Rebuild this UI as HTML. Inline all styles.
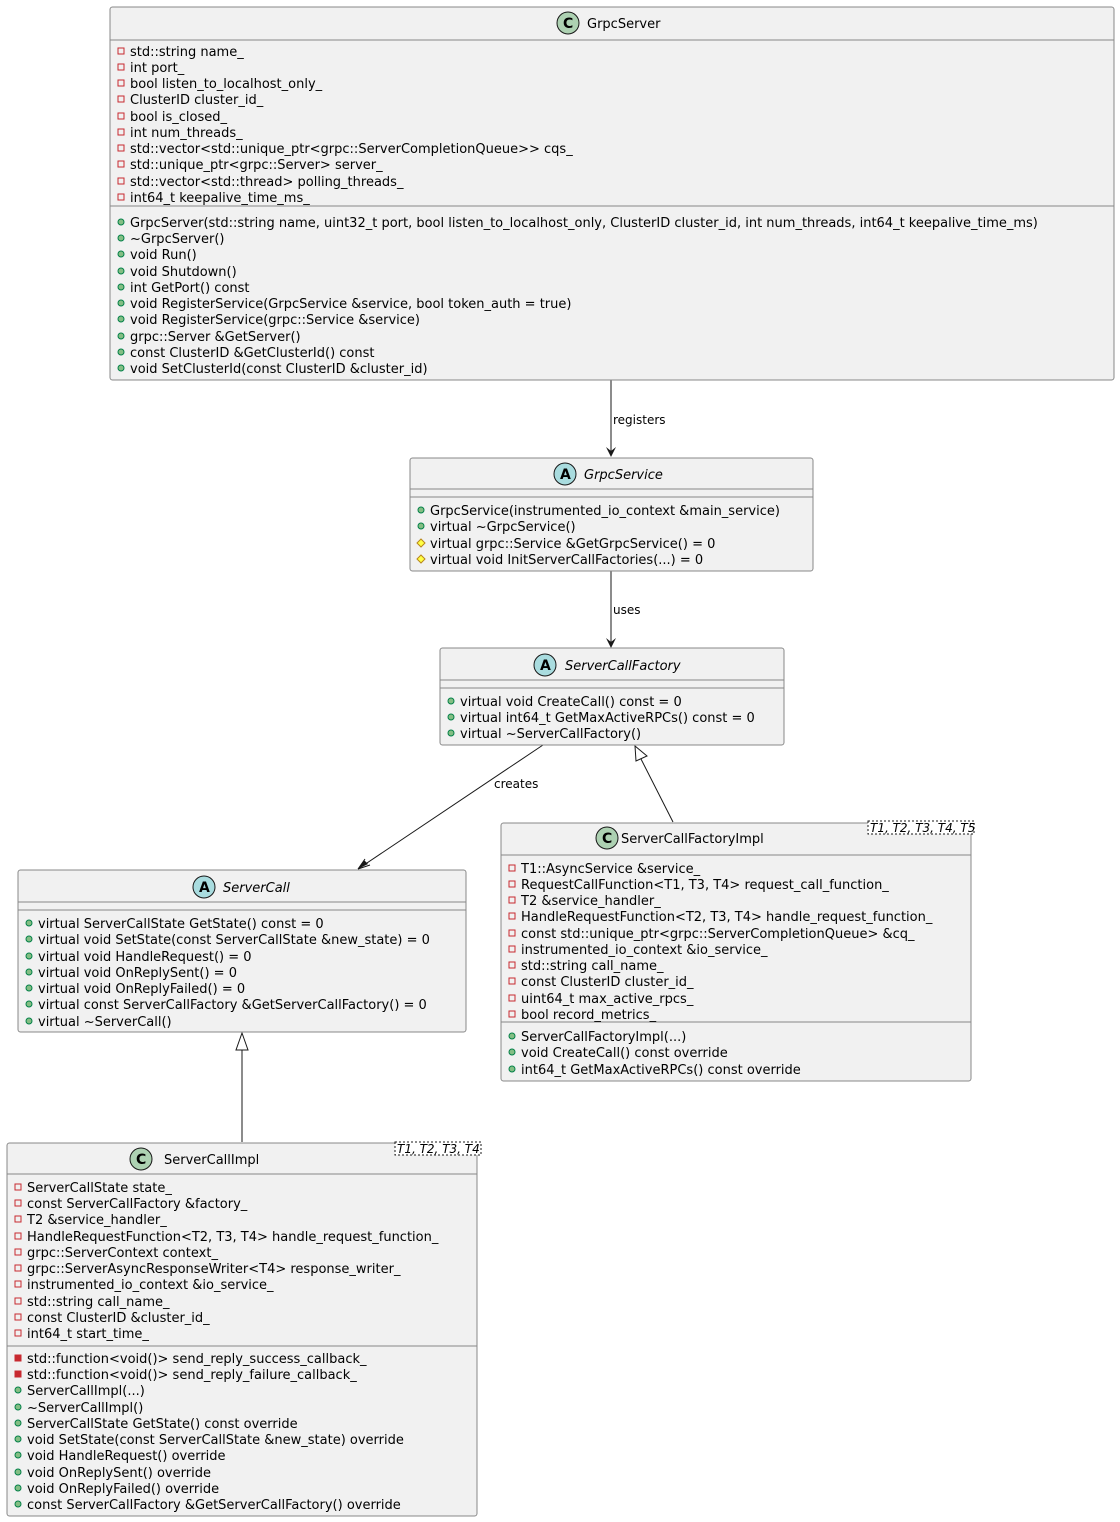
<!DOCTYPE html>
<html><head><meta charset="utf-8"><style>
html,body{margin:0;padding:0;background:#fff}
svg{display:block}
text{font-family:"DejaVu Sans","Liberation Sans",sans-serif;font-size:13px;fill:#000}
.b{fill:#f1f1f1;stroke:#888;stroke-width:1}
.d{stroke:#888;stroke-width:1}
.pv{fill:none;stroke:#c82930;stroke-width:1}
.pvf{fill:#c82930;stroke:#c82930}
.pu{fill:#84be84;stroke:#038048;stroke-width:1}
.pr{fill:#ffff44;stroke:#b8861b;stroke-width:1}
.it{font-style:italic}
.e{stroke:#181818;stroke-width:1;fill:none}
.lbl{font-size:12px}
</style></head><body>
<svg width="1120" height="1522" viewBox="0 0 1120 1522" xmlns="http://www.w3.org/2000/svg">
<defs>
<g id="pv"><rect x="-3" y="-3" width="6" height="6" class="pv"/></g>
<g id="pvf"><rect x="-3" y="-3" width="6" height="6" class="pvf"/></g>
<g id="pu"><circle r="3" class="pu"/></g>
<g id="pr"><polygon points="0,-4 4,0 0,4 -4,0" class="pr"/></g>
</defs>

<!-- edges -->
<line x1="611" y1="380" x2="611" y2="455" class="e"/>
<polygon points="606,447 611,457 616,447 611,451" fill="#181818"/>
<text x="613" y="424" class="lbl">registers</text>
<line x1="611" y1="571" x2="611" y2="646" class="e"/>
<polygon points="606,638 611,648 616,638 611,642" fill="#181818"/>
<text x="613" y="614" class="lbl">uses</text>
<line x1="543" y1="745" x2="358" y2="869" class="e"/>
<polygon points="358,869 364,860 368,864" fill="#181818"/>
<path d="M358,869 L365,859 M358,869 L370,865" class="e"/>
<text x="494" y="788" class="lbl">creates</text>
<line x1="673" y1="822" x2="641" y2="759" class="e"/>
<polygon points="635,746 647,756 636,761" fill="#fff" stroke="#181818"/>
<line x1="242" y1="1142" x2="242" y2="1050" class="e"/>
<polygon points="242,1033 248,1050 236,1050" fill="#fff" stroke="#181818"/>

<!-- GrpcServer -->
<rect x="110" y="7" width="1004" height="373" rx="2.5" class="b"/>
<line x1="110" y1="40" x2="1114" y2="40" class="d"/>
<line x1="110" y1="206" x2="1114" y2="206" class="d"/>
<circle cx="568" cy="23" r="11" fill="#add1b2" stroke="#181818"/>
<text x="563" y="28" style="font-weight:bold;font-size:14px">C</text>
<text x="587" y="28">GrpcServer</text>
<g>
<use href="#pv" x="121" y="51"/><text x="130" y="56">std::string name_</text>
<use href="#pv" x="121" y="67"/><text x="130" y="72">int port_</text>
<use href="#pv" x="121" y="83"/><text x="130" y="88">bool listen_to_localhost_only_</text>
<use href="#pv" x="121" y="99"/><text x="130" y="104">ClusterID cluster_id_</text>
<use href="#pv" x="121" y="116"/><text x="130" y="121">bool is_closed_</text>
<use href="#pv" x="121" y="132"/><text x="130" y="137">int num_threads_</text>
<use href="#pv" x="121" y="148"/><text x="130" y="153">std::vector&lt;std::unique_ptr&lt;grpc::ServerCompletionQueue&gt;&gt; cqs_</text>
<use href="#pv" x="121" y="164"/><text x="130" y="169">std::unique_ptr&lt;grpc::Server&gt; server_</text>
<use href="#pv" x="121" y="181"/><text x="130" y="186">std::vector&lt;std::thread&gt; polling_threads_</text>
<use href="#pv" x="121" y="197"/><text x="130" y="202">int64_t keepalive_time_ms_</text>
<use href="#pu" x="121" y="222"/><text x="130" y="227">GrpcServer(std::string name, uint32_t port, bool listen_to_localhost_only, ClusterID cluster_id, int num_threads, int64_t keepalive_time_ms)</text>
<use href="#pu" x="121" y="238"/><text x="130" y="243">~GrpcServer()</text>
<use href="#pu" x="121" y="254"/><text x="130" y="259">void Run()</text>
<use href="#pu" x="121" y="271"/><text x="130" y="276">void Shutdown()</text>
<use href="#pu" x="121" y="287"/><text x="130" y="292">int GetPort() const</text>
<use href="#pu" x="121" y="303"/><text x="130" y="308">void RegisterService(GrpcService &amp;service, bool token_auth = true)</text>
<use href="#pu" x="121" y="319"/><text x="130" y="324">void RegisterService(grpc::Service &amp;service)</text>
<use href="#pu" x="121" y="336"/><text x="130" y="341">grpc::Server &amp;GetServer()</text>
<use href="#pu" x="121" y="352"/><text x="130" y="357">const ClusterID &amp;GetClusterId() const</text>
<use href="#pu" x="121" y="368"/><text x="130" y="373">void SetClusterId(const ClusterID &amp;cluster_id)</text>
</g>

<!-- GrpcService -->
<rect x="410" y="458" width="403" height="113" rx="2.5" class="b"/>
<line x1="410" y1="489" x2="813" y2="489" class="d"/>
<line x1="410" y1="497" x2="813" y2="497" class="d"/>
<circle cx="565" cy="474" r="11" fill="#a9dcdf" stroke="#181818"/>
<text x="560" y="479" style="font-weight:bold;font-size:14px">A</text>
<text x="584" y="479" class="it">GrpcService</text>
<use href="#pu" x="421" y="510"/><text x="430" y="515">GrpcService(instrumented_io_context &amp;main_service)</text>
<use href="#pu" x="421" y="526"/><text x="430" y="531">virtual ~GrpcService()</text>
<use href="#pr" x="421" y="543"/><text x="430" y="548">virtual grpc::Service &amp;GetGrpcService() = 0</text>
<use href="#pr" x="421" y="559"/><text x="430" y="564">virtual void InitServerCallFactories(...) = 0</text>

<!-- ServerCallFactory -->
<rect x="440" y="648" width="344" height="97" rx="2.5" class="b"/>
<line x1="440" y1="680" x2="784" y2="680" class="d"/>
<line x1="440" y1="688" x2="784" y2="688" class="d"/>
<circle cx="545" cy="665" r="11" fill="#a9dcdf" stroke="#181818"/>
<text x="540" y="670" style="font-weight:bold;font-size:14px">A</text>
<text x="565" y="670" class="it">ServerCallFactory</text>
<use href="#pu" x="451" y="701"/><text x="460" y="706">virtual void CreateCall() const = 0</text>
<use href="#pu" x="451" y="717"/><text x="460" y="722">virtual int64_t GetMaxActiveRPCs() const = 0</text>
<use href="#pu" x="451" y="733"/><text x="460" y="738">virtual ~ServerCallFactory()</text>

<!-- ServerCall -->
<rect x="18" y="870" width="448" height="162" rx="2.5" class="b"/>
<line x1="18" y1="902" x2="466" y2="902" class="d"/>
<line x1="18" y1="910" x2="466" y2="910" class="d"/>
<circle cx="204" cy="887" r="11" fill="#a9dcdf" stroke="#181818"/>
<text x="199" y="892" style="font-weight:bold;font-size:14px">A</text>
<text x="223" y="892" class="it">ServerCall</text>
<use href="#pu" x="29" y="923"/><text x="38" y="928">virtual ServerCallState GetState() const = 0</text>
<use href="#pu" x="29" y="939"/><text x="38" y="944">virtual void SetState(const ServerCallState &amp;new_state) = 0</text>
<use href="#pu" x="29" y="956"/><text x="38" y="961">virtual void HandleRequest() = 0</text>
<use href="#pu" x="29" y="972"/><text x="38" y="977">virtual void OnReplySent() = 0</text>
<use href="#pu" x="29" y="988"/><text x="38" y="993">virtual void OnReplyFailed() = 0</text>
<use href="#pu" x="29" y="1004"/><text x="38" y="1009">virtual const ServerCallFactory &amp;GetServerCallFactory() = 0</text>
<use href="#pu" x="29" y="1021"/><text x="38" y="1026">virtual ~ServerCall()</text>

<!-- ServerCallFactoryImpl -->
<rect x="501" y="823" width="470" height="258" rx="2.5" class="b"/>
<line x1="501" y1="855" x2="971" y2="855" class="d"/>
<line x1="501" y1="1022" x2="971" y2="1022" class="d"/>
<circle cx="607" cy="838" r="11" fill="#add1b2" stroke="#181818"/>
<text x="602" y="843" style="font-weight:bold;font-size:14px">C</text>
<text x="621" y="843">ServerCallFactoryImpl</text>
<rect x="868" y="821" width="106" height="13" fill="#fff" stroke="#181818" stroke-dasharray="2,2"/>
<text x="870" y="832" class="it" style="font-size:12px">T1, T2, T3, T4, T5</text>
<use href="#pv" x="512" y="868"/><text x="521" y="873">T1::AsyncService &amp;service_</text>
<use href="#pv" x="512" y="884"/><text x="521" y="889">RequestCallFunction&lt;T1, T3, T4&gt; request_call_function_</text>
<use href="#pv" x="512" y="900"/><text x="521" y="905">T2 &amp;service_handler_</text>
<use href="#pv" x="512" y="916"/><text x="521" y="921">HandleRequestFunction&lt;T2, T3, T4&gt; handle_request_function_</text>
<use href="#pv" x="512" y="933"/><text x="521" y="938">const std::unique_ptr&lt;grpc::ServerCompletionQueue&gt; &amp;cq_</text>
<use href="#pv" x="512" y="949"/><text x="521" y="954">instrumented_io_context &amp;io_service_</text>
<use href="#pv" x="512" y="965"/><text x="521" y="970">std::string call_name_</text>
<use href="#pv" x="512" y="981"/><text x="521" y="986">const ClusterID cluster_id_</text>
<use href="#pv" x="512" y="998"/><text x="521" y="1003">uint64_t max_active_rpcs_</text>
<use href="#pv" x="512" y="1014"/><text x="521" y="1019">bool record_metrics_</text>
<use href="#pu" x="512" y="1036"/><text x="521" y="1041">ServerCallFactoryImpl(...)</text>
<use href="#pu" x="512" y="1052"/><text x="521" y="1057">void CreateCall() const override</text>
<use href="#pu" x="512" y="1069"/><text x="521" y="1074">int64_t GetMaxActiveRPCs() const override</text>

<!-- ServerCallImpl -->
<rect x="7" y="1143" width="470" height="373" rx="2.5" class="b"/>
<line x1="7" y1="1174" x2="477" y2="1174" class="d"/>
<line x1="7" y1="1346" x2="477" y2="1346" class="d"/>
<circle cx="141" cy="1159" r="11" fill="#add1b2" stroke="#181818"/>
<text x="136" y="1164" style="font-weight:bold;font-size:14px">C</text>
<text x="164" y="1164">ServerCallImpl</text>
<rect x="395" y="1142" width="86" height="13" fill="#fff" stroke="#181818" stroke-dasharray="2,2"/>
<text x="397" y="1153" class="it" style="font-size:12px">T1, T2, T3, T4</text>
<use href="#pv" x="18" y="1187"/><text x="27" y="1192">ServerCallState state_</text>
<use href="#pv" x="18" y="1203"/><text x="27" y="1208">const ServerCallFactory &amp;factory_</text>
<use href="#pv" x="18" y="1219"/><text x="27" y="1224">T2 &amp;service_handler_</text>
<use href="#pv" x="18" y="1236"/><text x="27" y="1241">HandleRequestFunction&lt;T2, T3, T4&gt; handle_request_function_</text>
<use href="#pv" x="18" y="1252"/><text x="27" y="1257">grpc::ServerContext context_</text>
<use href="#pv" x="18" y="1268"/><text x="27" y="1273">grpc::ServerAsyncResponseWriter&lt;T4&gt; response_writer_</text>
<use href="#pv" x="18" y="1284"/><text x="27" y="1289">instrumented_io_context &amp;io_service_</text>
<use href="#pv" x="18" y="1301"/><text x="27" y="1306">std::string call_name_</text>
<use href="#pv" x="18" y="1317"/><text x="27" y="1322">const ClusterID &amp;cluster_id_</text>
<use href="#pv" x="18" y="1333"/><text x="27" y="1338">int64_t start_time_</text>
<use href="#pvf" x="18" y="1358"/><text x="27" y="1363">std::function&lt;void()&gt; send_reply_success_callback_</text>
<use href="#pvf" x="18" y="1374"/><text x="27" y="1379">std::function&lt;void()&gt; send_reply_failure_callback_</text>
<use href="#pu" x="18" y="1390"/><text x="27" y="1395">ServerCallImpl(...)</text>
<use href="#pu" x="18" y="1407"/><text x="27" y="1412">~ServerCallImpl()</text>
<use href="#pu" x="18" y="1423"/><text x="27" y="1428">ServerCallState GetState() const override</text>
<use href="#pu" x="18" y="1439"/><text x="27" y="1444">void SetState(const ServerCallState &amp;new_state) override</text>
<use href="#pu" x="18" y="1455"/><text x="27" y="1460">void HandleRequest() override</text>
<use href="#pu" x="18" y="1472"/><text x="27" y="1477">void OnReplySent() override</text>
<use href="#pu" x="18" y="1488"/><text x="27" y="1493">void OnReplyFailed() override</text>
<use href="#pu" x="18" y="1504"/><text x="27" y="1509">const ServerCallFactory &amp;GetServerCallFactory() override</text>
</svg>
</body></html>
